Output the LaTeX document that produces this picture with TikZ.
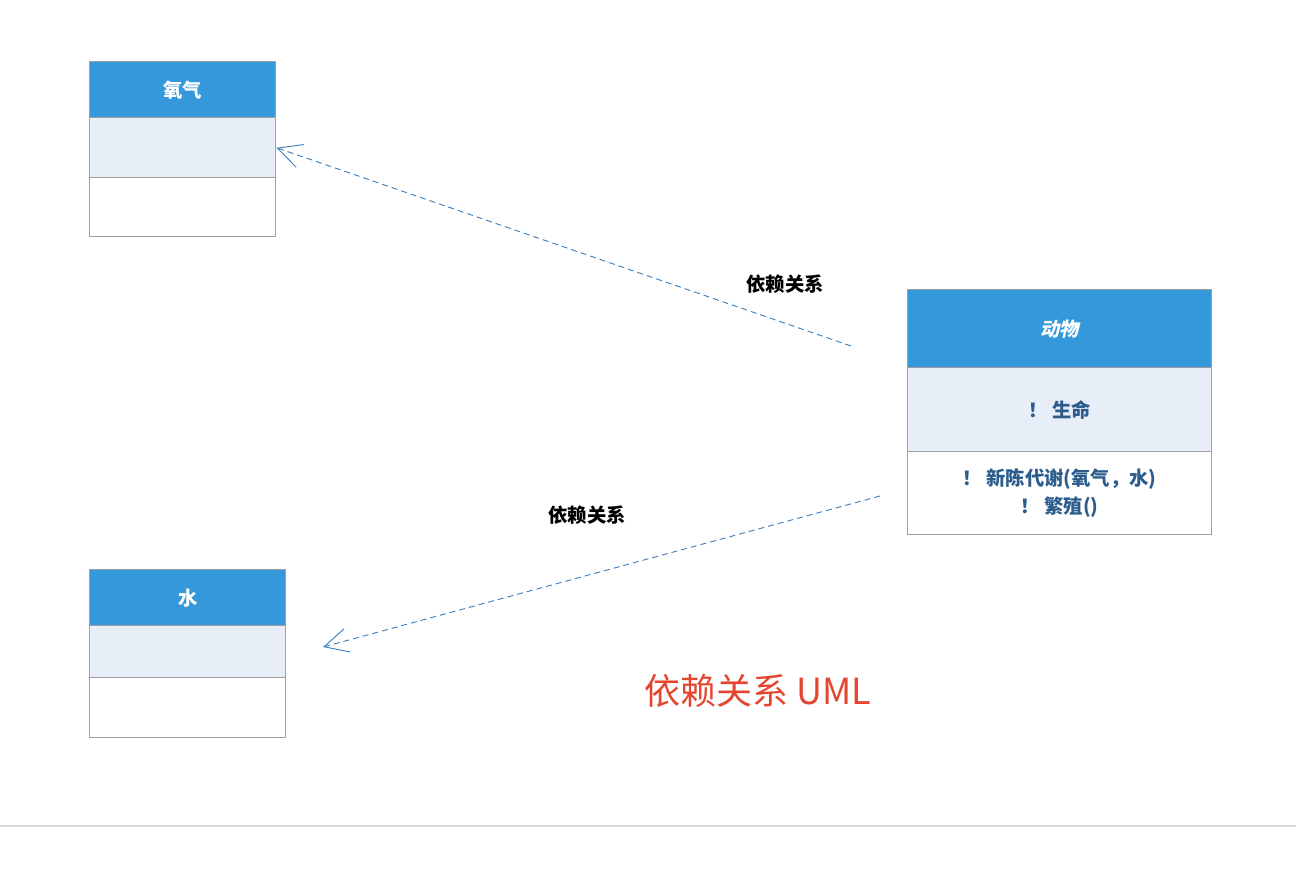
\documentclass[tikz,border=0pt]{standalone}
\usepackage{fontspec}
\newfontfamily\cjk{Noto Sans CJK SC}
\newfontfamily\cjkit[FakeSlant=0.2]{Noto Sans CJK SC}
\usetikzlibrary{arrows.meta}
\definecolor{hdrblue}{HTML}{3598DB}
\definecolor{midfill}{HTML}{E8EEF8}
\definecolor{boxline}{HTML}{A0A0A0}
\definecolor{txtblue}{HTML}{2B5C8C}
\definecolor{arrowblue}{HTML}{3F7FBF}
\definecolor{titlered}{HTML}{E4452F}
\definecolor{rulegray}{HTML}{D9D9D9}
\tikzset{
  comp/.style={draw=boxline, line width=1.1pt, inner sep=0pt, anchor=north west, font=\cjk\bfseries\fontsize{14.5}{21}\selectfont, align=center},
  hdr/.style={comp, fill=hdrblue, text=white},
  mid/.style={comp, fill=midfill, text=txtblue},
  low/.style={comp, fill=white, text=txtblue},
  dep/.style={draw=arrowblue, line width=0.7pt, dash pattern=on 4.5pt off 3pt, -{Straight Barb[length=18pt, width=18pt, line width=0.7pt]}},
  deplabel/.style={font=\cjk\bfseries\fontsize{14.5}{16}\selectfont, text=black},
}
\begin{document}
\begin{tikzpicture}[x=0.75pt, y=-0.75pt]
\useasboundingbox (0,0) rectangle (1296,868);
% oxygen
\node[hdr, minimum width=186*0.75pt, minimum height=56*0.75pt] (oxhdr) at (89,61) {氧气};
\node[mid, minimum width=186*0.75pt, minimum height=60*0.75pt] (oxmid) at (89,117) {};
\node[low, minimum width=186*0.75pt, minimum height=59*0.75pt] (oxlow) at (89,177) {};
% water
\node[hdr, minimum width=196*0.75pt, minimum height=56*0.75pt] (wahdr) at (89,569) {水};
\node[mid, minimum width=196*0.75pt, minimum height=52*0.75pt] (wamid) at (89,625) {};
\node[low, minimum width=196*0.75pt, minimum height=60*0.75pt] (walow) at (89,677) {};
% animal
\node[hdr, minimum width=304*0.75pt, minimum height=78*0.75pt, font=\cjkit\bfseries\fontsize{14.5}{16}\selectfont] (anhdr) at (907,289) {动物};
\node[mid, minimum width=304*0.75pt, minimum height=84*0.75pt] (anmid) at (907,367) {！ 生命};
\node[low, minimum width=304*0.75pt, minimum height=83*0.75pt] (anlow) at (907,451) {！ 新陈代谢(氧气，水)\\！ 繁殖()};
% connectors
\coordinate (d1s) at (851,346);
\coordinate (d2s) at (880,496);
\coordinate (d2e) at (323,647);
\draw[dep] (d1s) -- (oxmid.east);
\draw[dep] (d2s) -- (d2e);
\node[deplabel] (l1) at (785,284) {依赖关系};
\node[deplabel] (l2) at (587,515) {依赖关系};
% title
\node[font=\cjk\fontsize{27}{32}\selectfont, text=titlered] (title) at (758,691) {依赖关系 UML};
% bottom rule
\coordinate (bl) at (0,826);
\coordinate (br) at (1296,826);
\draw[draw=rulegray, line width=1.2pt] (bl) -- (br);
\end{tikzpicture}
\end{document}
